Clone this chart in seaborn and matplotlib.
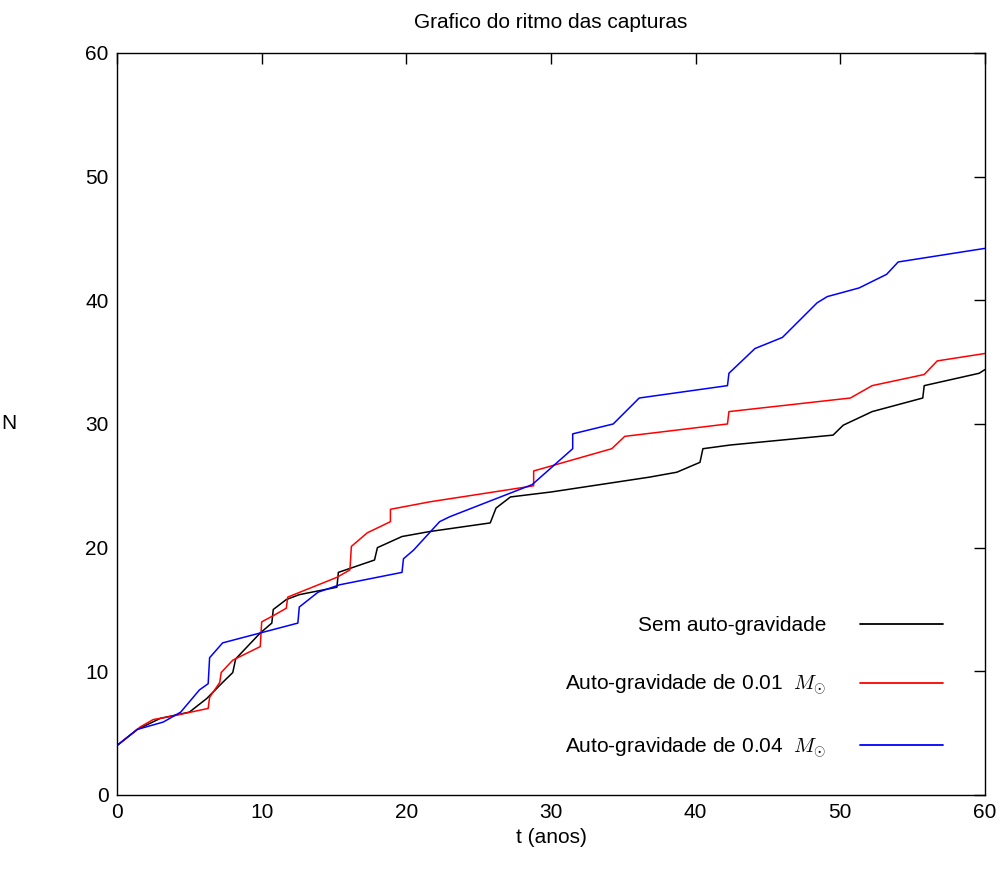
import pandas as pd
import seaborn as sns
import matplotlib.pyplot as plt

# Capture rate curves (t in years, N cumulative captures)
t_sem = [0, 1.4, 3.0, 5.0, 6.2, 7.3, 8.0, 8.2, 9.9, 10.7, 10.8, 11.7, 12.6, 15.2, 15.3,
         17.8, 18.0, 19.7, 21.6, 25.8, 26.2, 27.2, 30.0, 36.8, 38.7, 40.3, 40.5, 42.4,
         49.5, 50.2, 52.2, 55.7, 55.8, 59.6, 60.0]
n_sem = [4.0, 5.3, 6.2, 6.7, 7.8, 9.1, 9.9, 11.0, 13.1, 13.9, 15.0, 15.8, 16.2, 16.8, 18.0,
         19.0, 20.0, 20.9, 21.3, 22.0, 23.2, 24.1, 24.5, 25.7, 26.1, 26.9, 28.0, 28.3,
         29.1, 29.9, 31.0, 32.1, 33.1, 34.1, 34.4]

t_001 = [0, 1.6, 2.5, 3.5, 5.9, 6.3, 6.4, 7.1, 7.2, 8.0, 9.9, 10.0, 10.8, 11.7, 11.8,
         15.2, 16.1, 16.2, 17.3, 18.9, 18.9, 21.6, 28.8, 28.8, 34.2, 35.1, 42.2, 42.3,
         50.7, 52.2, 55.8, 56.7, 60.0]
n_001 = [4.0, 5.5, 6.1, 6.3, 6.9, 7.0, 7.9, 9.1, 9.9, 10.9, 12.0, 14.0, 14.5, 15.1, 16.0,
         17.6, 18.2, 20.1, 21.2, 22.1, 23.1, 23.7, 25.0, 26.2, 28.0, 29.0, 30.0, 31.0,
         32.1, 33.1, 34.0, 35.1, 35.7]

t_004 = [0, 0, 1.4, 3.2, 4.4, 5.7, 6.3, 6.4, 7.3, 9.9, 12.5, 12.6, 13.9, 15.4, 19.7,
         19.8, 20.5, 22.3, 23.0, 28.7, 31.5, 31.5, 34.3, 36.1, 42.2, 42.3, 44.1, 46.0,
         48.4, 49.1, 51.3, 53.2, 54.0, 60.0]
n_004 = [0.0, 4.0, 5.3, 5.9, 6.7, 8.5, 9.0, 11.1, 12.3, 13.1, 13.9, 15.2, 16.4, 17.0, 18.0,
         19.1, 19.8, 22.1, 22.5, 25.1, 28.0, 29.2, 30.0, 32.1, 33.1, 34.1, 36.1, 37.0,
         39.8, 40.3, 41.0, 42.1, 43.1, 44.2]

labels = ["Sem auto-gravidade",
          r"Auto-gravidade de 0.01  $M_{\odot}$",
          r"Auto-gravidade de 0.04  $M_{\odot}$"]
colors = ["black", "#ff0000", "#0000ff"]

df = pd.concat([
    pd.DataFrame({"t": t_sem, "N": n_sem, "serie": labels[0]}),
    pd.DataFrame({"t": t_001, "N": n_001, "serie": labels[1]}),
    pd.DataFrame({"t": t_004, "N": n_004, "serie": labels[2]}),
], ignore_index=True)

sns.set_style("white")
plt.rcParams['font.family'] = ['Liberation Sans', 'DejaVu Sans']
plt.rcParams['mathtext.fontset'] = 'cm'
plt.rcParams['text.color'] = 'black'
plt.rcParams['axes.labelcolor'] = 'black'

fig = plt.figure(figsize=(10.02, 8.74), dpi=100)
ax = fig.add_axes([0.1168, 0.0904, 0.8662, 0.849])

sns.lineplot(data=df, x="t", y="N", hue="serie", hue_order=labels,
             palette=dict(zip(labels, colors)), estimator=None, sort=False,
             linewidth=1.1, ax=ax, legend=False)

ax.set_xlim(0, 60)
ax.set_ylim(0, 60)
ax.set_xticks(range(0, 61, 10))
ax.set_yticks(range(0, 61, 10))
ax.tick_params(direction="in", length=8, width=1, top=True, right=True,
               labelsize=15, colors="black", pad=6)
for s in ax.spines.values():
    s.set_color("black")
    s.set_linewidth(1)

ax.set_title("Grafico do ritmo das capturas", fontsize=15, pad=18)
ax.set_xlabel("t (anos)", fontsize=15, labelpad=4)
ax.set_ylabel("N", fontsize=15, rotation=0, labelpad=55, va="center")

handles = [plt.Line2D([], [], color=c, linewidth=1.3) for c in colors]
ax.legend(handles, labels, loc="lower right", bbox_to_anchor=(0.9735, 0.0225),
          frameon=False, markerfirst=False, fontsize=15, handlelength=4.0,
          labelspacing=1.8, handletextpad=1.6, borderaxespad=0.5)

fig.savefig("out.png", dpi=100)
